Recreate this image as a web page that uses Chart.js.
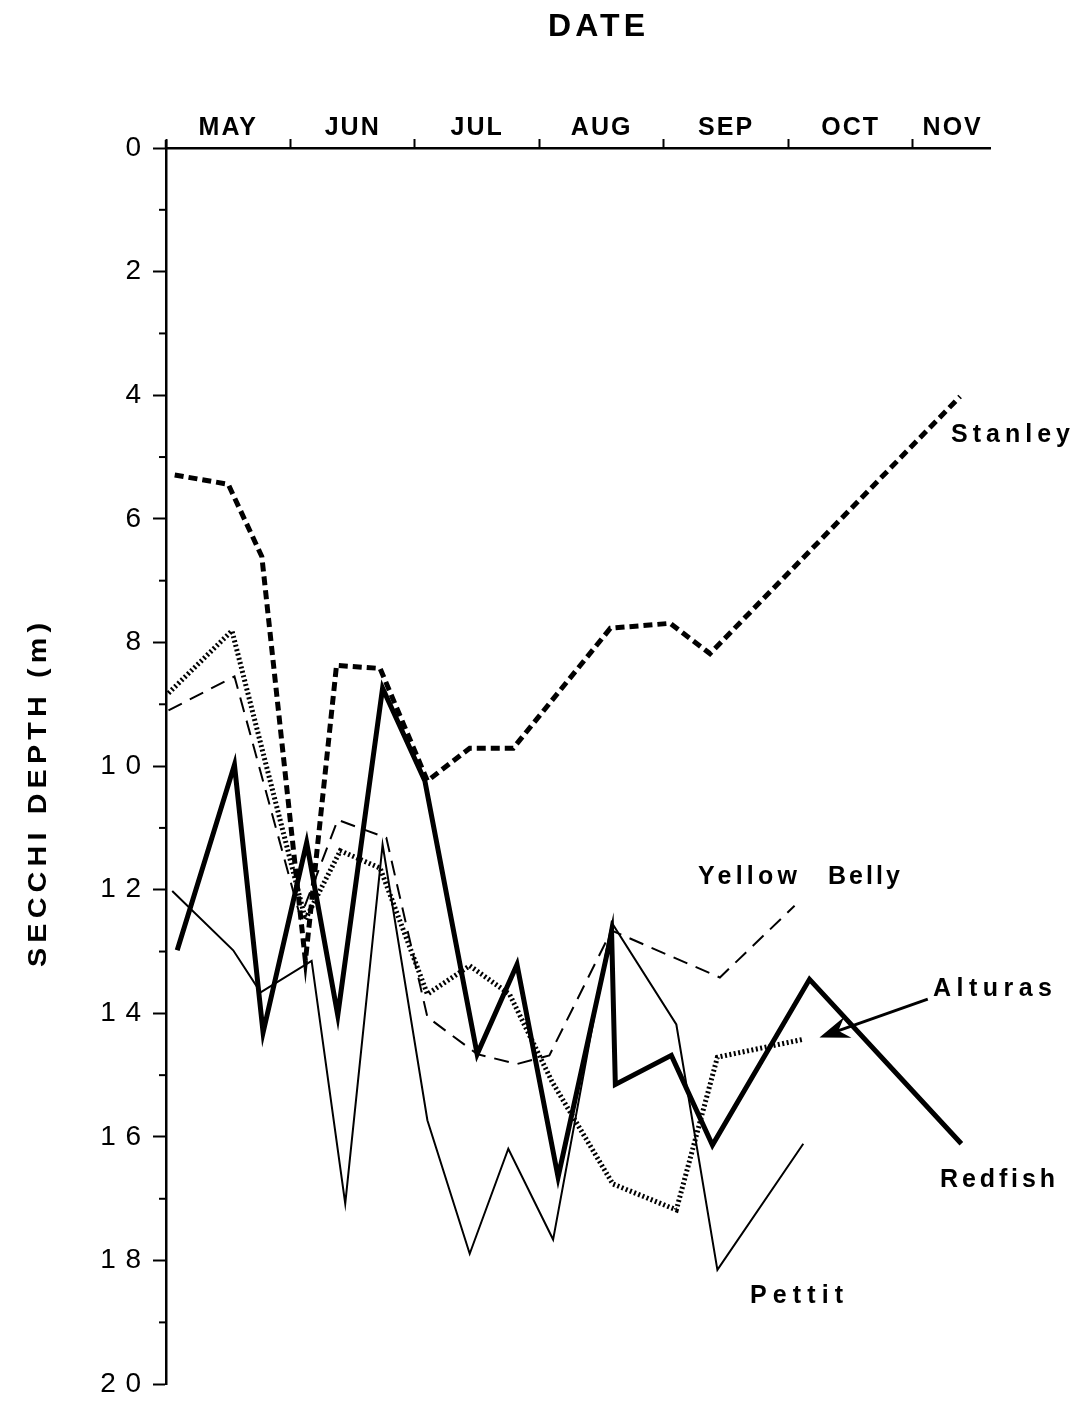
<!DOCTYPE html>
<html>
<head>
<meta charset="utf-8">
<script src="https://cdn.jsdelivr.net/npm/chart.js@4.4.1/dist/chart.umd.min.js"></script>
<style>
html,body{margin:0;padding:0;background:#fff}
#wrap{width:1074px;height:1411px}
</style>
</head>
<body>
<div id="wrap"><canvas id="c" width="1074" height="1411"></canvas></div>
<script>
const FONT = "'Liberation Sans', Arial, Helvetica, sans-serif";

// x = months after 1 May, y = Secchi depth (m)
const monthLabels   = ['MAY','JUN','JUL','AUG','SEP','OCT','NOV'];
const monthLabelPos = [0.5, 1.5, 2.5, 3.5, 4.5, 5.5, 6.32];
const monthBounds   = [0, 1, 2, 3, 4, 5, 6];
const depthTicks    = [0, 2, 4, 6, 8, 10, 12, 14, 16, 18, 20];

const redfishX = [0.09, 0.55, 0.78, 1.13, 1.38, 1.74, 2.08, 2.50, 2.82, 3.15, 3.58, 3.61, 4.06, 4.39, 5.17, 6.39];
const redfishY = [12.98, 9.98, 14.31, 11.24, 14.03, 8.74, 10.24, 14.66, 13.21, 16.65, 12.70, 15.15, 14.68, 16.13, 13.45, 16.11];

const stanleyX = [0.07, 0.50, 0.77, 1.12, 1.37, 1.72, 2.10, 2.44, 2.79, 3.57, 4.05, 4.37, 6.38];
const stanleyY = [5.29, 5.44, 6.61, 13.15, 8.37, 8.42, 10.24, 9.71, 9.71, 7.77, 7.69, 8.18, 4.02];

const alturasX = [0.02, 0.53, 1.12, 1.40, 1.72, 2.10, 2.44, 2.76, 3.10, 3.59, 4.10, 4.43, 5.12];
const alturasY = [8.82, 7.81, 12.48, 11.37, 11.65, 13.69, 13.23, 13.69, 15.10, 16.76, 17.18, 14.71, 14.42];

const yellowBellyX = [0.02, 0.55, 1.08, 1.38, 1.77, 2.10, 2.50, 2.82, 3.08, 3.58, 4.45, 5.05];
const yellowBellyY = [9.10, 8.55, 12.45, 10.87, 11.16, 14.06, 14.66, 14.82, 14.68, 12.66, 13.42, 12.26];

const pettitX = [0.05, 0.54, 0.76, 1.17, 1.44, 1.74, 2.10, 2.44, 2.75, 3.11, 3.58, 4.10, 4.43, 5.12];
const pettitY = [12.02, 12.98, 13.66, 13.15, 17.08, 11.27, 15.73, 17.89, 16.19, 17.66, 12.53, 14.18, 18.15, 16.11];

function pts(xs, ys) { return xs.map((x, i) => ({ x: x, y: ys[i] })); }

function fitText(c, text, x0, x1, yc, font, hs) {
  hs = hs || 1;
  c.save();
  c.font = font;
  c.letterSpacing = '0px';
  const w = c.measureText(text).width * hs;
  const n = text.length;
  const sp = n > 1 ? Math.max(0, (x1 - x0 - w) / (n - 1)) / hs : 0;
  c.letterSpacing = sp.toFixed(2) + 'px';
  const size = parseFloat(font.match(/(\d+(\.\d+)?)px/)[1]);
  c.textAlign = 'left';
  c.textBaseline = 'alphabetic';
  c.translate(x0, yc + size * 0.716 / 2);
  c.scale(hs, 1);
  c.fillText(text, 0, 0);
  c.restore();
}

const extras = {
  id: 'extras',
  beforeDraw(chart) { chart.ctx.letterSpacing = '2px'; },
  afterDraw(chart) {
    const c = chart.ctx;
    const xs = chart.scales.x, ys = chart.scales.y;
    const area = chart.chartArea;
    c.save();
    c.letterSpacing = '0px';
    c.strokeStyle = '#000';
    c.fillStyle = '#000';
    // minor ticks on depth axis
    c.lineWidth = 2;
    for (let v = 1; v < 20; v += 2) {
      const py = ys.getPixelForValue(v);
      c.beginPath(); c.moveTo(area.left - 7, py); c.lineTo(area.left, py); c.stroke();
    }
    // small extension of the depth axis above the date axis
    c.lineWidth = 2.5;
    c.beginPath(); c.moveTo(area.left, area.top - 8); c.lineTo(area.left, area.top); c.stroke();

    // titles
    fitText(c, 'DATE', 548, 645, 25, 'bold 32px ' + FONT);
    c.save();
    c.translate(37, 795);
    c.rotate(-Math.PI / 2);
    fitText(c, 'SECCHI DEPTH (m)', -172, 172, 0, 'bold 25px ' + FONT, 1.15);
    c.restore();

    // series labels
    const lf = 'bold 25px ' + FONT;
    fitText(c, 'Stanley', 951, 1070, 433, lf);
    fitText(c, 'Yellow', 698, 797, 875, lf);
    fitText(c, 'Belly', 828, 900, 875, lf);
    fitText(c, 'Alturas', 933, 1052, 987, lf);
    fitText(c, 'Redfish', 940, 1055, 1178, lf);
    fitText(c, 'Pettit', 750, 843, 1294, lf);

    // arrow to Alturas
    const tx = xs.getPixelForValue(5.25), ty = ys.getPixelForValue(14.39);
    const sx = xs.getPixelForValue(6.12), sy = ys.getPixelForValue(13.77);
    const ang = Math.atan2(ty - sy, tx - sx);
    const L = 30, H = 11;
    const bx = tx - L * Math.cos(ang), by = ty - L * Math.sin(ang);
    const nx = -Math.sin(ang), ny = Math.cos(ang);
    c.lineWidth = 3;
    c.beginPath(); c.moveTo(sx, sy); c.lineTo(tx - 18 * Math.cos(ang), ty - 18 * Math.sin(ang)); c.stroke();
    const nb = 20;
    c.beginPath();
    c.moveTo(tx, ty);
    c.lineTo(bx + nx * H, by + ny * H);
    c.lineTo(tx - nb * Math.cos(ang), ty - nb * Math.sin(ang));
    c.lineTo(bx - nx * H, by - ny * H);
    c.closePath();
    c.fill();

    c.restore();
    c.letterSpacing = '0px';
  }
};

new Chart(document.getElementById('c').getContext('2d'), {
  type: 'line',
  data: {
    datasets: [
      { label: 'Redfish', data: pts(redfishX, redfishY), borderColor: '#000', borderWidth: 5, pointRadius: 0, tension: 0, fill: false },
      { label: 'Stanley', data: pts(stanleyX, stanleyY), borderColor: '#000', borderWidth: 5, borderDash: [9, 5], pointRadius: 0, tension: 0, fill: false },
      { label: 'Alturas', data: pts(alturasX, alturasY), borderColor: '#000', borderWidth: 5, borderDash: [2, 2.5], pointRadius: 0, tension: 0, fill: false },
      { label: 'Yellow Belly', data: pts(yellowBellyX, yellowBellyY), borderColor: '#000', borderWidth: 2, borderDash: [15, 9], pointRadius: 0, tension: 0, fill: false },
      { label: 'Pettit', data: pts(pettitX, pettitY), borderColor: '#000', borderWidth: 2, pointRadius: 0, tension: 0, fill: false }
    ]
  },
  options: {
    responsive: false,
    animation: false,
    events: [],
    layout: { padding: { left: 0, right: 84, top: 0, bottom: 23 } },
    plugins: { legend: { display: false }, tooltip: { enabled: false }, title: { display: false } },
    scales: {
      x: {
        type: 'linear', position: 'top', min: 0, max: 6.62,
        afterBuildTicks: s => {
          s.ticks = monthBounds.concat(monthLabelPos).sort((a, b) => a - b).map(v => ({ value: v }));
        },
        ticks: {
          autoSkip: false, maxRotation: 0, minRotation: 0, padding: 0, color: '#000',
          font: { family: FONT, size: 25, weight: 'bold', lineHeight: 0.9 },
          callback: v => { const i = monthLabelPos.indexOf(v); return i >= 0 ? monthLabels[i] : ''; }
        },
        grid: {
          drawOnChartArea: false, drawTicks: true, tickLength: 9, tickWidth: 2,
          tickColor: ctx => (ctx.tick && Number.isInteger(ctx.tick.value)) ? '#000' : 'rgba(0,0,0,0)'
        },
        border: { display: true, color: '#000', width: 2.5 },
        afterFit: s => { s.height = 148; }
      },
      y: {
        type: 'linear', position: 'left', reverse: true, min: 0, max: 20,
        afterBuildTicks: s => { s.ticks = depthTicks.map(v => ({ value: v })); },
        ticks: {
          autoSkip: false, padding: 10, color: '#000', font: { family: FONT, size: 28 },
          callback: v => String(v).split('').join('\u2009')
        },
        grid: { drawOnChartArea: false, drawTicks: true, tickLength: 13, tickWidth: 2, tickColor: '#000' },
        border: { display: true, color: '#000', width: 2.5 },
        afterFit: s => { s.width = 166; }
      }
    }
  },
  plugins: [extras]
});
</script>
</body>
</html>
